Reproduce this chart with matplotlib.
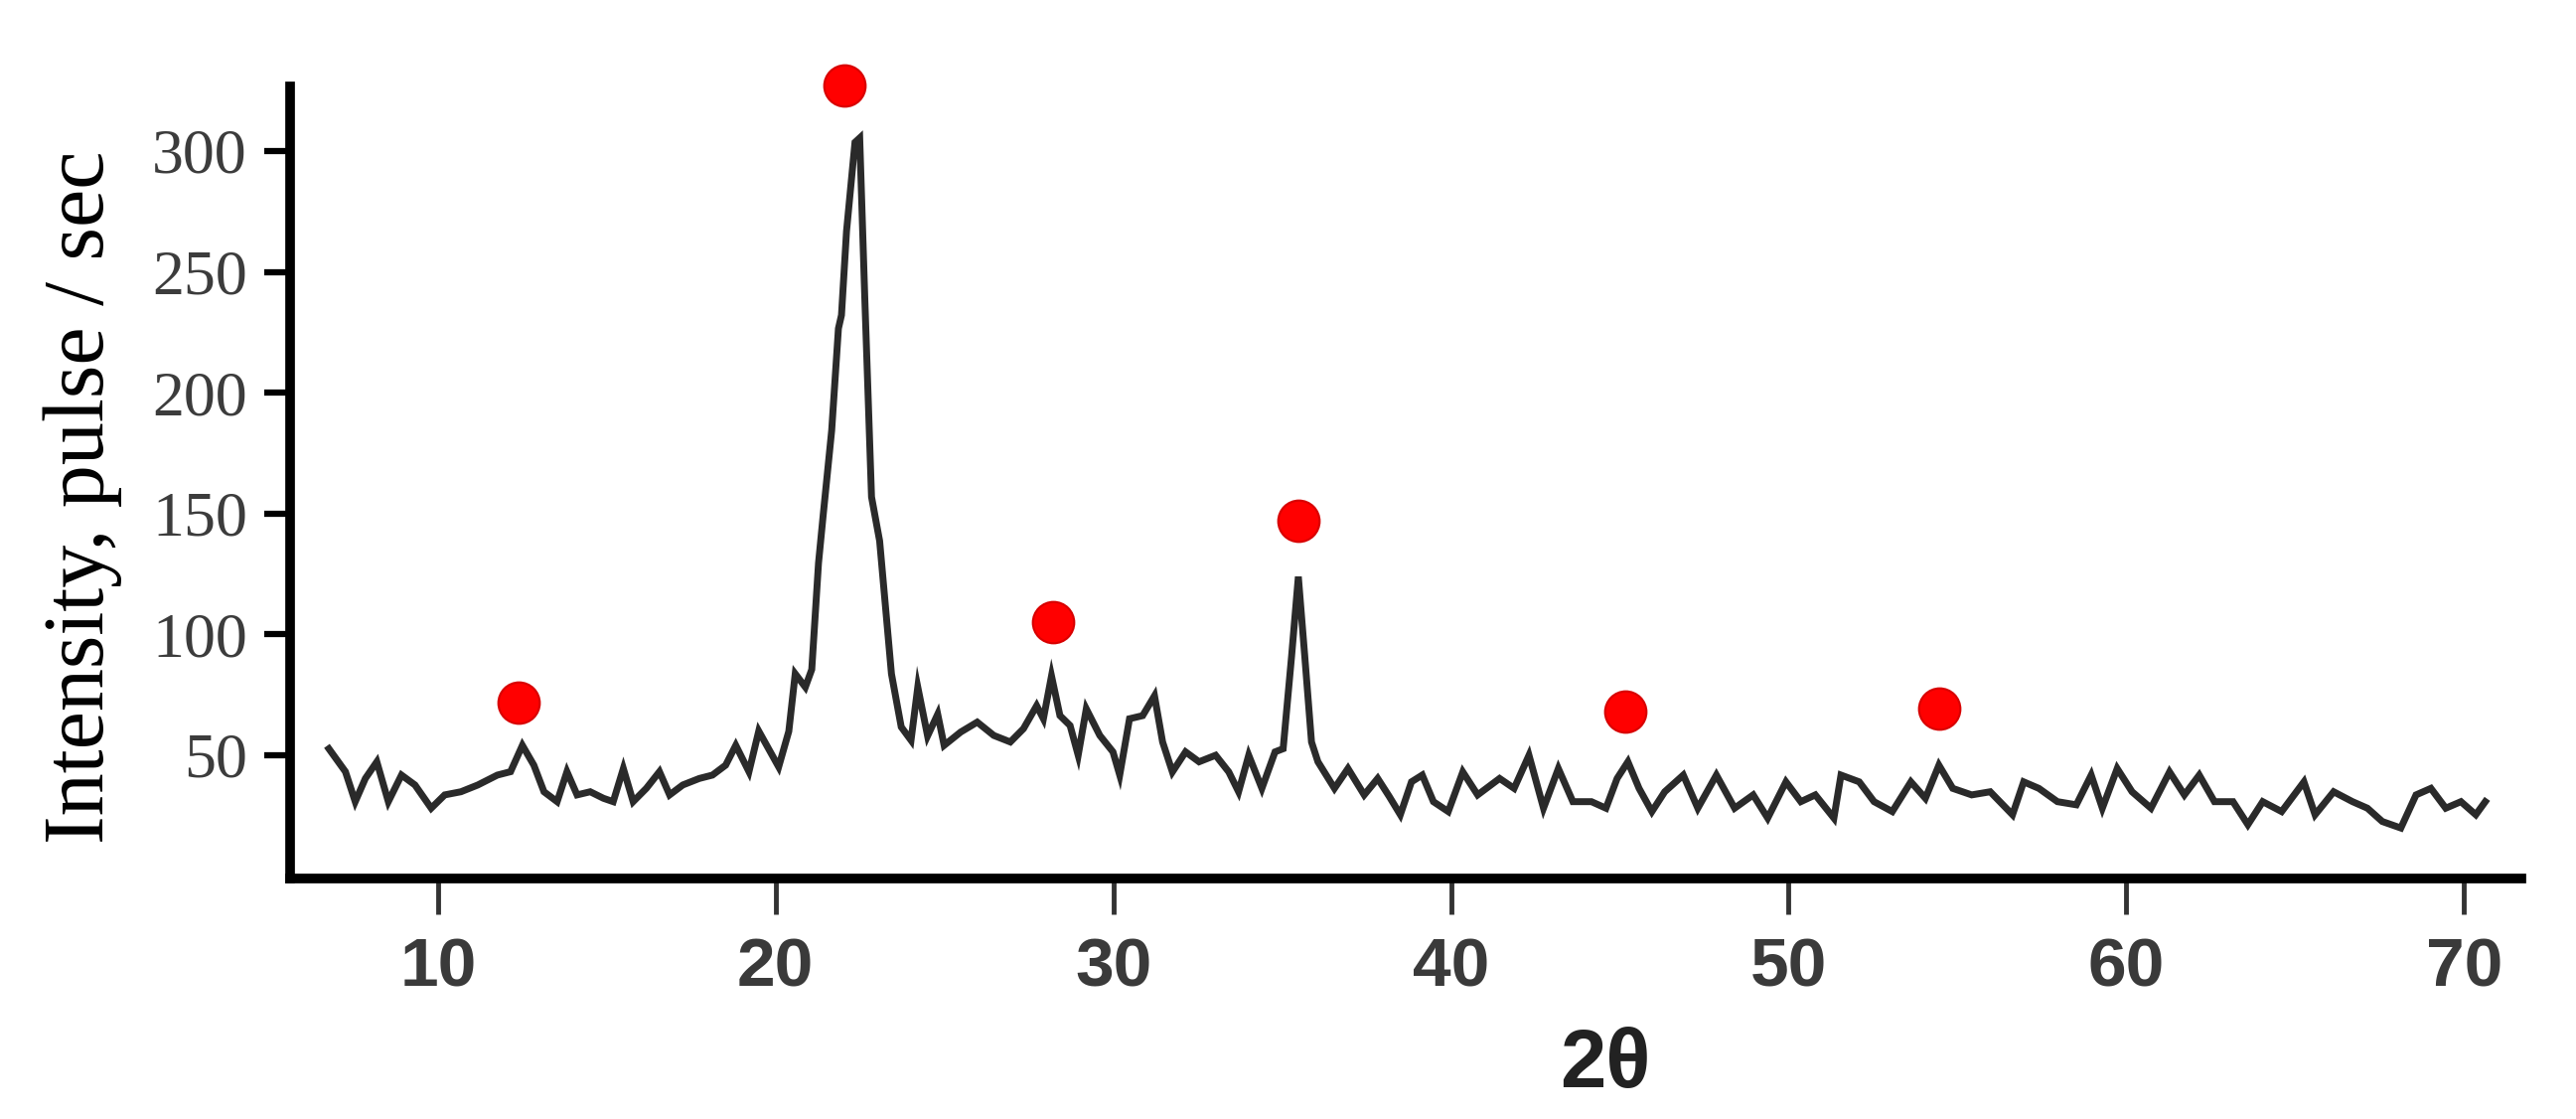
import numpy as np
import matplotlib
matplotlib.use("Agg")
import matplotlib.pyplot as plt

# XRD trace: 2theta [deg] and intensity [pulse/sec]
two_theta = [6.77, 7.26, 7.55, 7.85, 8.19, 8.53, 8.92, 9.32, 9.80, 10.20,
             10.68, 11.18, 11.76, 12.15, 12.50, 12.84, 13.14, 13.53, 13.82, 14.12,
             14.51, 14.90, 15.19, 15.49, 15.78, 16.17, 16.56, 16.86, 17.25, 17.74,
             18.13, 18.52, 18.82, 19.21, 19.50, 19.80, 20.09, 20.39, 20.58, 20.88,
             21.07, 21.27, 21.41, 21.66, 21.86, 21.95, 22.10, 22.35, 22.49, 22.64,
             22.84, 23.08, 23.43, 23.72, 24.01, 24.21, 24.50, 24.80, 24.99, 25.48,
             25.97, 26.46, 26.95, 27.34, 27.73, 27.93, 28.17, 28.42, 28.72, 28.96,
             29.20, 29.60, 29.99, 30.19, 30.48, 30.87, 31.22, 31.46, 31.75, 32.14,
             32.54, 33.03, 33.42, 33.71, 34.01, 34.40, 34.79, 35.03, 35.28, 35.48,
             35.67, 35.87, 36.06, 36.55, 36.95, 37.43, 37.83, 38.17, 38.50, 38.83,
             39.15, 39.48, 39.92, 40.35, 40.79, 41.44, 41.87, 42.31, 42.74, 43.18,
             43.61, 44.16, 44.59, 44.92, 45.24, 45.57, 45.95, 46.33, 46.88, 47.31,
             47.86, 48.40, 48.95, 49.38, 49.92, 50.36, 50.79, 51.34, 51.55, 52.09,
             52.53, 53.07, 53.62, 54.05, 54.45, 54.86, 55.42, 55.97, 56.63, 56.96,
             57.41, 57.96, 58.52, 58.96, 59.29, 59.73, 60.17, 60.73, 61.28, 61.72,
             62.16, 62.61, 63.16, 63.60, 64.04, 64.60, 65.26, 65.59, 66.14, 66.70,
             67.14, 67.58, 68.13, 68.58, 69.02, 69.46, 69.91, 70.35, 70.63]
intensity = [52.7, 43.2, 30.8, 40.4, 47.3, 30.8, 41.8, 37.7, 28.1, 33.6,
             34.9, 37.7, 41.8, 43.2, 54.1, 45.9, 34.9, 30.8, 43.2, 33.6,
             34.9, 32.2, 30.8, 44.5, 30.8, 36.3, 43.2, 33.6, 37.7, 40.4,
             41.8, 45.9, 54.1, 43.2, 60.0, 52.5, 45.2, 59.9, 83.7, 78.2,
             85.5, 129.5, 149.6, 184.4, 226.6, 232.1, 266.9, 303.6, 305.4, 239.4,
             156.9, 138.7, 83.7, 61.7, 56.2, 78.2, 58.0, 67.0, 54.1, 59.6,
             63.7, 58.2, 55.5, 61.0, 70.5, 65.1, 82.8, 66.4, 62.3, 50.0,
             69.2, 58.2, 51.4, 41.8, 65.1, 66.4, 74.6, 55.5, 43.1, 51.4,
             47.3, 50.0, 43.1, 34.9, 50.0, 36.3, 51.4, 52.7, 91.0, 123.9,
             91.0, 55.5, 47.3, 36.3, 44.5, 33.6, 40.4, 33.0, 25.4, 39.0,
             41.8, 30.8, 26.7, 43.1, 33.6, 40.4, 36.3, 50.0, 28.1, 44.5,
             30.8, 30.8, 28.1, 40.4, 47.3, 36.3, 26.7, 34.9, 41.8, 28.1,
             41.8, 28.1, 33.6, 24.0, 39.0, 30.8, 33.6, 24.0, 41.8, 39.0,
             30.8, 26.7, 39.0, 32.2, 45.9, 36.3, 33.6, 34.9, 25.4, 39.0,
             36.3, 30.8, 29.5, 41.8, 28.1, 44.5, 34.9, 28.1, 43.1, 33.6,
             41.8, 30.8, 30.8, 21.3, 30.8, 26.7, 39.0, 25.4, 34.9, 30.8,
             28.1, 22.6, 19.9, 33.6, 36.3, 28.1, 30.8, 25.4, 30.8]

# red dots marking the identified reflections
peak_x = [12.40, 22.05, 28.22, 35.47, 45.15, 54.45]
peak_y = [71.7, 327.0, 105.0, 146.9, 67.9, 69.5]

xticks = [10, 20, 30, 40, 50, 60, 70]
yticks = [50, 100, 150, 200, 250, 300]

fig = plt.figure(figsize=(25.93, 11.26), dpi=100)
ax = fig.add_axes([0.1126, 0.2149, 0.8662, 0.7078])

ax.plot(two_theta, intensity, color='#2a2a2a', linewidth=5, solid_joinstyle='miter')
ax.plot(peak_x, peak_y, 'o', color='#ff0000', markersize=30,
        markeredgecolor='#d80000', markeredgewidth=1.5, clip_on=False, zorder=5)

ax.set_xlim(5.62, 71.7)
ax.set_ylim(-1, 326.7)

# only left and bottom axis lines, thick like the scan
for side in ['top', 'right']:
    ax.spines[side].set_visible(False)
for side in ['left', 'bottom']:
    ax.spines[side].set_linewidth(7)
    ax.spines[side].set_color('black')

ax.set_xticks(xticks)
ax.set_yticks(yticks)
ax.tick_params(axis='x', direction='out', length=26, width=3.5, pad=16,
               colors='#333333')
ax.tick_params(axis='y', direction='out', length=19, width=4.5, pad=12,
               colors='black')
for lab in ax.get_xticklabels():
    lab.set_family('Liberation Sans')
    lab.set_fontweight('bold')
    lab.set_fontsize(50)
    lab.set_color('#3a3a3a')
for lab in ax.get_yticklabels():
    lab.set_family('Liberation Serif')
    lab.set_fontsize(46)
    lab.set_color('#3c3c3c')

fig.text(0.0322, 0.556, 'Intensity, pulse / sec', rotation=90, ha='center', va='center',
         family='Liberation Serif', fontsize=62, color='black')
fig.text(0.623, 0.048, '2θ', ha='center', va='center',
         family=['Liberation Sans', 'DejaVu Sans'], fontweight='bold', fontsize=60,
         color='#222222')

fig.savefig('out.png', dpi=100, facecolor='white')
